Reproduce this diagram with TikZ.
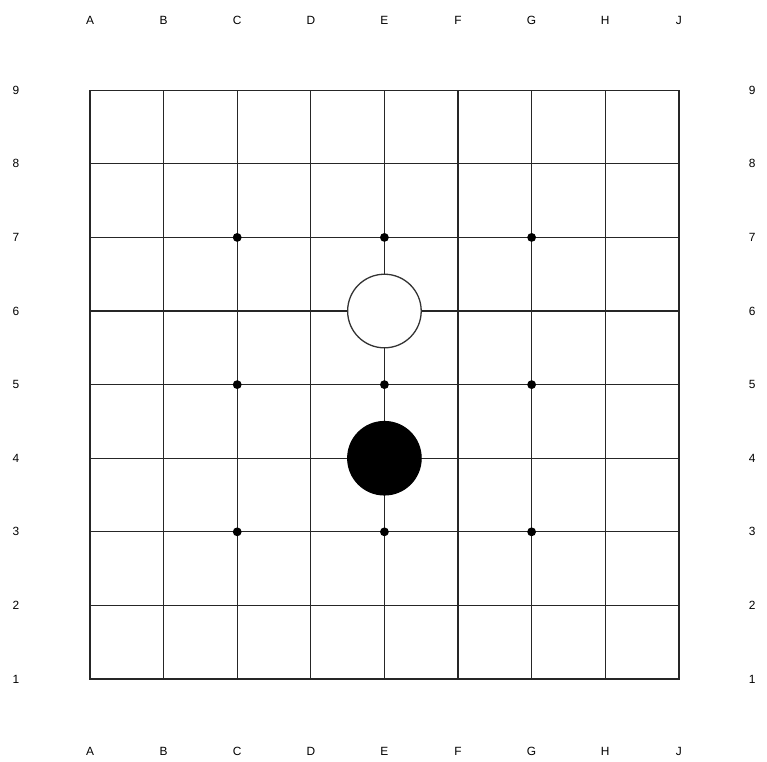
\documentclass[tikz,border=0pt]{standalone}
\usepackage{fontspec}
\setmainfont{Liberation Sans}
\usetikzlibrary{positioning}
\colorlet{gridline}{black!85}
\tikzset{
  coordlabel/.style={font=\fontsize{4.6}{5}\selectfont, text=black, inner sep=0pt},
  starpoint/.style={fill=black},
  whitestone/.style={fill=white, draw=black!80, line width=0.5pt},
  blackstone/.style={fill=black, draw=black}
}

\begin{document}
\begin{tikzpicture}
  \useasboundingbox (-1.223,-1.114) rectangle (9.198,9.226);
  % --- board lines (9x9) ---
  \foreach \k in {1,...,7} {
    \draw[gridline, line width=0.45pt] (\k,0) -- (\k,8);
    \draw[gridline, line width=0.45pt] (0,\k) -- (8,\k);
  }
  \draw[gridline, line width=0.55pt] (0,0) rectangle (8,8);
  % --- column letters, top and bottom ---
  \foreach \col [count=\i from 0] in {A,B,C,D,E,F,G,H,J} {
    \node[coordlabel] (top\col) at (\i,8.954) {\col};
    \node[coordlabel] (bot\col) at (\i,-0.978) {\col};
  }
  % --- row numbers, left and right ---
  \foreach \row in {1,...,9} {
    \pgfmathtruncatemacro\ry{\row-1}
    \node[coordlabel] (left\row) at (-1.005,\ry) {\row};
    \node[coordlabel] (right\row) at (8.995,\ry) {\row};
  }
  % --- star points ---
  \foreach \sx in {2,4,6}
    \foreach \sy in {2,4,6}
      \fill[starpoint] (\sx,\sy) circle (0.06);
  % --- stones: white E6, black E4 ---
  \draw[whitestone] (4,5) circle (0.5);
  \draw[blackstone] (4,3) circle (0.5);
\end{tikzpicture}
\end{document}
